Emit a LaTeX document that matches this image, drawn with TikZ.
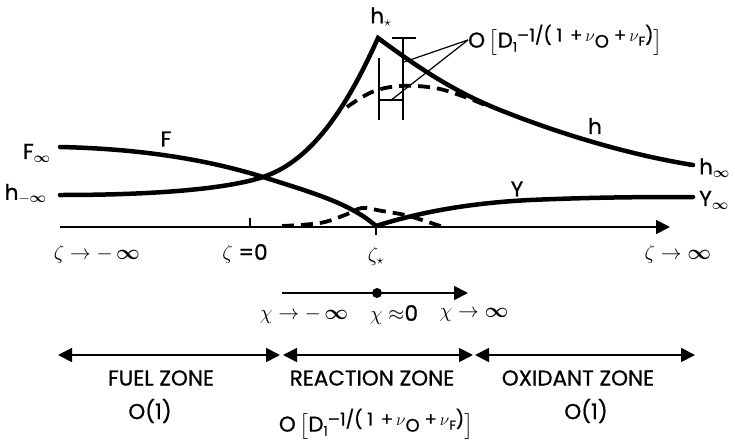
\documentclass[tikz,border=0pt]{standalone}
\usepackage{amsmath,amssymb}
\usepackage{fontspec}
\setmainfont{Poppins}[FakeBold=0.8]
\usetikzlibrary{arrows.meta}

\newcommand{\infy}{\boldsymbol{\infty}}
\newcommand{\ordD}{O\,$\bigl[$D\raisebox{-4pt}{\fontsize{13}{13}\selectfont 1}\raisebox{6pt}{\fontsize{18}{19}\selectfont --1/( 1 \,+\,$\nu$\raisebox{-6pt}{O}\;+\,$\nu$\raisebox{-4pt}{\fontsize{13}{13}\selectfont F})}$\bigr]$}

\begin{document}
\begin{tikzpicture}[x=1pt, y=-1pt, >={Triangle[length=14pt,width=14pt]},
  every node/.style={font=\fontsize{21.5}{24}\selectfont, inner sep=0pt},
  curve/.style={line width=4.5pt, line cap=round},
  dcurve/.style={line width=3.8pt, dash pattern=on 12pt off 7pt},
  thinln/.style={line width=1.2pt},
  axis/.style={line width=1.8pt}]
  \useasboundingbox (0,0) rectangle (735,439);
  % profiles
  \draw[curve] (60,195) .. controls (170,195) and (233,187) .. (263,177)
    .. controls (315,160) and (350,100) .. (378,38)
    .. controls (420,69) and (455,92) .. (500,110)
    .. controls (560,134) and (630,155) .. (693,165);
  \draw[curve] (60,147) .. controls (150,149) and (215,162) .. (263,177)
    .. controls (310,192) and (350,203) .. (376,226);
  \draw[curve] (376,226) .. controls (420,212) and (470,203) .. (530,200)
    .. controls (600,197) and (650,197) .. (693,197);
  \draw[dcurve] plot[smooth, tension=0.6] coordinates {(347,107) (372,92) (400,86) (435,88) (465,97) (485,105)};
  \draw[dcurve] plot[smooth, tension=0.6] coordinates {(282,226) (320,223) (345,215) (362,208) (382,211) (405,215) (425,221) (443,227)};
  % thickness marks at the peak
  \draw[thinln] (379,58) -- (379,120);
  \draw[thinln] (392,38) -- (416,38) (403,38) -- (403,120);
  \draw[thinln] (379,100) -- (403,100);
  \coordinate (dimh) at (404,62);
  \coordinate (dimw) at (390,101);
  % axes
  \draw[axis, ->] (60,227) -- (670,227);
  \draw[thinln] (250,218) -- (250,227);
  \draw[line width=2pt] (376,227) -- (376,235);
  \draw[axis, ->] (282,293) -- (468,293);
  \fill (377,293) circle (5pt);
  \foreach \xa/\xb in {58/280, 283/473, 475/695}
    \draw[axis, <->] (\xa,355) -- (\xb,355);
  % labels
  \node[anchor=east] (finf) at (51,153) {F$_{\infy}$};
  \node[anchor=east] (hminf) at (47,194) {h$_{-\infy}$};
  \node (flbl) at (166,139) {F};
  \node (hstar) at (381,17) {h$_\star$};
  \node (hlbl) at (595,126) {h};
  \node[anchor=west] (hinf) at (699,168) {h$_{\infy}$};
  \node (ylbl) at (517,189) {Y};
  \node[anchor=west] (yinf) at (699,200) {Y$_{\infy}$};
  \node[anchor=west] (ordtop) at (468,40) {\ordD};
  \draw[thinln] (ordtop.west) -- (dimh);
  \draw[thinln] (ordtop.west) -- (dimw);
  \node (zl) at (97,254) {$\zeta\rightarrow-\,\infy$};
  \node (z0) at (245,254) {$\zeta$ =0};
  \node (zs) at (376,256) {$\zeta_\star$};
  \node (zr) at (678,254) {$\zeta\rightarrow\infy$};
  \node (xl) at (304,315) {$\chi\rightarrow-\,\infy$};
  \node (x0) at (394,315) {$\chi$ $\approx$0};
  \node (xr) at (474,315) {$\chi\rightarrow\infy$};
  \node (fuel) at (161,378) {FUEL ZONE};
  \node (fuelo) at (150,411) {O(1)};
  \node (reac) at (372,378) {REACTION ZONE};
  \node (reaco) at (376,424) {\ordD};
  \node (oxid) at (578,378) {OXIDANT ZONE};
  \node (oxido) at (586,411) {O(1)};
\end{tikzpicture}
\end{document}
